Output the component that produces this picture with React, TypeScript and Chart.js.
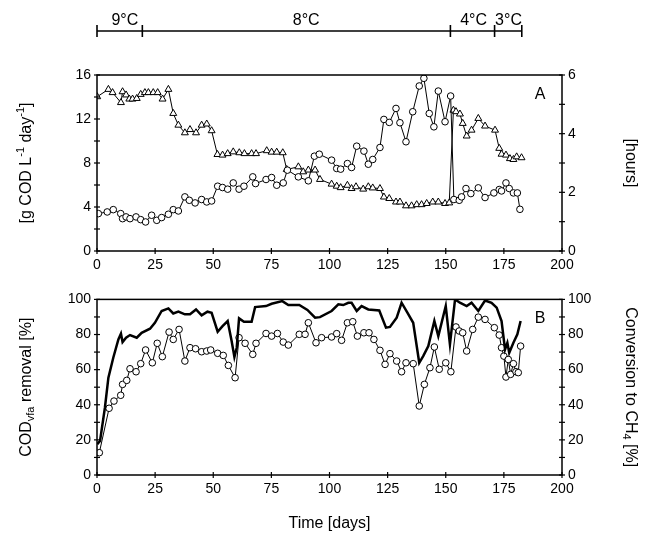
import React, { useEffect, useRef } from 'react';
import { Chart, registerables } from 'chart.js';

Chart.register(...registerables);

const FONT = 'Arial, "Liberation Sans", Helvetica, sans-serif';

// ---- Panel A: organic loading rate (circles, left axis) ----
const olrDays = [0.6, 4.4, 7, 10.2, 11, 12.5, 14.2, 16.8, 18.8, 20.9, 23.5, 25.7, 27.8, 30.7, 32.8, 35, 37.8, 39.7, 42.2, 45, 47.2, 49.3, 51.9, 54, 56.2, 58.6, 61.1, 63.2, 67, 68.2, 72.7, 75.1, 77.3, 80.1, 81.9, 86.6, 90.9, 93.5, 95.6, 100.9, 103.1, 104.8, 107.7, 109.5, 111.7, 114.8, 116.7, 118.6, 121.7, 123.4, 125.7, 128.6, 130.3, 132.9, 135.8, 138.6, 140.6, 142.9, 144.9, 146.8, 149.7, 152.1, 153.5, 155.8, 156.8, 158.7, 160.8, 164, 166.9, 170.7, 173, 174, 175.9, 177.3, 179.1, 180.8, 181.9];
const olrValues = [3.4, 3.55, 3.76, 3.4, 2.94, 3.1, 2.94, 3.1, 2.85, 2.64, 3.25, 2.79, 3.04, 3.34, 3.76, 3.64, 4.92, 4.61, 4.37, 4.68, 4.46, 4.55, 5.89, 5.77, 5.62, 6.19, 5.62, 5.89, 6.74, 6.13, 6.5, 6.68, 5.98, 6.19, 7.35, 6.74, 6.38, 8.62, 8.8, 8.26, 7.5, 7.44, 7.95, 7.59, 9.53, 9.08, 7.89, 8.32, 9.41, 11.96, 11.69, 12.96, 11.66, 9.93, 12.66, 15.0, 15.7, 12.5, 11.29, 14.54, 11.75, 14.09, 4.68, 4.61, 4.92, 5.68, 5.22, 5.74, 4.86, 5.28, 5.59, 5.46, 6.19, 5.68, 5.28, 5.28, 3.79];

// ---- Panel A: hydraulic retention time (triangles, right axis, hours) ----
const hrtDays = [0.1, 4.9, 6.7, 10.3, 11, 12.5, 13.9, 15.3, 17.1, 18.8, 20.6, 22.1, 24.2, 26.1, 28.2, 30.7, 32.8, 35, 37.8, 40, 42.6, 45, 47.2, 49.3, 51.8, 54, 56.2, 58.6, 61.2, 63.4, 66.5, 68.4, 73, 75.1, 77.3, 79.9, 81.6, 86.6, 88.7, 90.9, 93.8, 95.9, 100.9, 103.1, 104.8, 107.7, 109.5, 111.4, 114.5, 116.7, 118.6, 121.7, 123.4, 125.7, 128.6, 130.3, 132.9, 135.3, 137.5, 139.6, 141.8, 144.4, 146.8, 149.7, 151.5, 153.3, 154.4, 156.1, 157.3, 159, 161.1, 164, 166.9, 171.2, 173, 174, 175.9, 177.6, 179.1, 180.5, 182.6];
const hrtValues = [5.26, 5.51, 5.4, 5.06, 5.43, 5.32, 5.18, 5.18, 5.2, 5.34, 5.4, 5.4, 5.4, 5.4, 5.18, 5.51, 4.69, 4.29, 4.03, 4.14, 4.03, 4.29, 4.33, 4.1, 3.29, 3.27, 3.32, 3.38, 3.35, 3.32, 3.32, 3.32, 3.42, 3.37, 3.37, 3.35, 2.78, 2.87, 2.7, 2.76, 2.76, 2.44, 2.28, 2.21, 2.16, 2.24, 2.13, 2.19, 2.11, 2.19, 2.15, 2.13, 1.84, 1.79, 1.67, 1.67, 1.54, 1.54, 1.58, 1.58, 1.62, 1.67, 1.67, 1.62, 1.64, 4.8, 4.75, 4.67, 4.35, 3.92, 4.12, 4.52, 4.26, 4.12, 3.5, 3.3, 3.27, 3.15, 3.12, 3.21, 3.18];

// ---- Panel B: CODvfa removal (circles, left axis %) ----
const removalDays = [1, 5.2, 7.3, 10.2, 11, 12.8, 14.2, 16.8, 18.8, 20.9, 23.8, 25.9, 28.1, 31, 32.8, 35.3, 37.8, 40, 42.4, 45, 47.2, 48.9, 51.9, 54.3, 56.5, 59.4, 61.1, 63.7, 67, 68.4, 72.7, 75.1, 77.6, 80.1, 82.3, 87, 89.5, 90.9, 94.2, 96.6, 100.9, 103.1, 105.2, 107.7, 110, 112, 114.8, 117, 119.1, 121.7, 123.9, 126, 128.9, 131, 132.9, 136, 138.6, 140.8, 143.2, 145.1, 147.2, 150, 152.2, 154.4, 155.8, 157.3, 159, 161.6, 164, 166.9, 170.9, 173, 174, 175, 175.9, 176.9, 177.9, 179.1, 180.2, 181.2, 182.2];
const removalValues = [12.7, 38, 42.1, 45.4, 51.6, 53.9, 60.5, 58.8, 63.4, 71.2, 63.9, 75, 67.4, 81.4, 77.2, 82.9, 64.9, 72.5, 71.9, 70.2, 70.6, 71.2, 69.3, 68.1, 62.4, 55.4, 78.2, 75, 68.7, 75, 80.6, 79.1, 80.6, 75.7, 74, 80.1, 80.1, 86.7, 75.3, 78.2, 78.6, 80.5, 76.7, 86.7, 87.3, 79.1, 81, 81, 77.2, 71, 63, 69.1, 64.9, 58.8, 63.9, 63.4, 39.3, 51.6, 61.1, 72.9, 60.2, 63.9, 58.8, 84.3, 82, 81, 70.6, 82.9, 89.9, 88.6, 83.9, 79.7, 72.5, 67.7, 55.8, 65.8, 57.3, 63.4, 58.8, 58.3, 73.4];

// ---- Panel B: conversion to CH4 (thick line, right axis %) ----
const conversionDays = [0.1, 1.3, 3.4, 4.9, 7, 9.2, 10.3, 11, 12.5, 14.2, 17.1, 19.2, 22.8, 24.9, 27.8, 30.7, 32.8, 35, 37.8, 40, 42.6, 45, 47.5, 49.3, 51.9, 54, 56.2, 57.9, 59.1, 60.1, 61.1, 63.2, 66.5, 68, 72.7, 75.1, 79.7, 82.3, 87, 90.5, 93.8, 95.9, 100.9, 103.8, 105.9, 108.1, 109.5, 111.7, 113.8, 116.7, 121.4, 124.3, 126, 128.9, 131, 133.5, 136, 138.6, 140.3, 142.5, 145.1, 146.8, 150, 151.8, 154, 156.1, 159, 161.1, 164, 166.9, 169.7, 171.9, 174, 175.5, 176.5, 177.3, 179.1, 180.8, 182.2];
const conversionValues = [17.5, 19.4, 38.3, 55.4, 66.8, 77.2, 80.5, 75.7, 78.2, 79.7, 78.2, 81, 83.3, 86.7, 93.4, 94.9, 92, 93, 91.5, 91.5, 94.3, 90.9, 93, 92.4, 81.6, 84.8, 87.7, 76.3, 67.2, 72.5, 89.2, 87.3, 87.3, 95.6, 96.2, 97.5, 99, 96.8, 96.8, 94, 89.6, 89.9, 93.4, 97.2, 96.8, 98.1, 98.1, 93.4, 96.2, 94.3, 93.7, 83.9, 84.3, 89.6, 98.1, 92.4, 86.7, 63.9, 67.7, 73.4, 87.7, 79.1, 96.2, 74.4, 100, 98.1, 96.2, 98.1, 93.4, 99.4, 98.1, 95.3, 87.7, 71.5, 75.3, 69.6, 75.3, 80.1, 87.7];

// ---- Temperature periods (top bar) ----
const tempBounds = [0, 19.5, 152, 171, 182.7];
const tempLabels = ['9°C', '8°C', '4°C', '3°C'];
const tempLabelDays = [12, 90, 162, 177];

const toXY = (xs: number[], ys: number[]) => xs.map((x, i) => ({ x, y: ys[i] }));

type Seg = { t: string; sup?: boolean; sub?: boolean };

function drawRich(ctx: CanvasRenderingContext2D, segs: Seg[], x: number, y: number, rot: number, size: number) {
  ctx.save();
  ctx.translate(x, y);
  ctx.rotate(rot);
  ctx.fillStyle = '#000';
  ctx.textBaseline = 'alphabetic';
  ctx.textAlign = 'left';
  const fontFor = (s: Seg) => `${s.sup || s.sub ? Math.round(size * 0.7) : size}px ${FONT}`;
  let total = 0;
  const widths = segs.map((s) => {
    ctx.font = fontFor(s);
    const w = ctx.measureText(s.t).width;
    total += w;
    return w;
  });
  let cx = -total / 2;
  const base = size * 0.36;
  segs.forEach((s, i) => {
    ctx.font = fontFor(s);
    const dy = s.sup ? -size * 0.4 : s.sub ? size * 0.22 : 0;
    ctx.fillText(s.t, cx, base + dy);
    cx += widths[i];
  });
  ctx.restore();
}

const frameTicks = {
  id: 'frameTicks',
  afterDraw(chart: any) {
    const ctx = chart.ctx as CanvasRenderingContext2D;
    const a = chart.chartArea;
    ctx.save();
    ctx.strokeStyle = '#000';
    ctx.lineWidth = 1.5;
    ctx.strokeRect(a.left, a.top, a.right - a.left, a.bottom - a.top);
    ctx.lineWidth = 1.2;
    Object.keys(chart.scales).forEach((id) => {
      const s = chart.scales[id];
      s.ticks.forEach((t: any) => {
        const p = s.getPixelForValue(t.value);
        ctx.beginPath();
        if (s.axis === 'x') {
          ctx.moveTo(p, a.bottom - 3);
          ctx.lineTo(p, a.bottom + 3);
        } else if (s.position === 'left') {
          ctx.moveTo(a.left - 3, p);
          ctx.lineTo(a.left + 3, p);
        } else {
          ctx.moveTo(a.right - 3, p);
          ctx.lineTo(a.right + 3, p);
        }
        ctx.stroke();
      });
    });
    ctx.restore();
  },
};

const overlayA = {
  id: 'overlayA',
  afterDraw(chart: any) {
    const ctx = chart.ctx as CanvasRenderingContext2D;
    const a = chart.chartArea;
    const xs = chart.scales.x;
    ctx.save();
    // temperature bar
    const barY = 31;
    ctx.strokeStyle = '#000';
    ctx.lineWidth = 1.6;
    ctx.beginPath();
    ctx.moveTo(xs.getPixelForValue(tempBounds[0]), barY);
    ctx.lineTo(xs.getPixelForValue(tempBounds[tempBounds.length - 1]), barY);
    ctx.stroke();
    tempBounds.forEach((d) => {
      const px = xs.getPixelForValue(d);
      ctx.beginPath();
      ctx.moveTo(px, barY - 6);
      ctx.lineTo(px, barY + 6);
      ctx.stroke();
    });
    ctx.fillStyle = '#000';
    ctx.font = `16px ${FONT}`;
    ctx.textAlign = 'center';
    ctx.textBaseline = 'alphabetic';
    tempLabels.forEach((l, i) => {
      ctx.fillText(l, xs.getPixelForValue(tempLabelDays[i]), 25);
    });
    // panel letter
    ctx.textAlign = 'center';
    ctx.font = `16px ${FONT}`;
    ctx.fillText('A', a.right - 22, a.top + 24);
    ctx.restore();
    const midY = (a.top + a.bottom) / 2;
    drawRich(ctx, [{ t: '[g COD L' }, { t: '-1', sup: true }, { t: ' day' }, { t: '-1', sup: true }, { t: ']' }], 25, midY, -Math.PI / 2, 16);
    drawRich(ctx, [{ t: '[hours]' }], 632, midY, Math.PI / 2, 16);
  },
};

const overlayB = {
  id: 'overlayB',
  afterDraw(chart: any) {
    const ctx = chart.ctx as CanvasRenderingContext2D;
    const a = chart.chartArea;
    ctx.save();
    ctx.fillStyle = '#000';
    ctx.font = `16px ${FONT}`;
    ctx.textAlign = 'center';
    ctx.textBaseline = 'alphabetic';
    ctx.fillText('B', a.right - 22, a.top + 24);
    ctx.restore();
    const midY = (a.top + a.bottom) / 2;
    drawRich(ctx, [{ t: 'COD' }, { t: 'vfa', sub: true }, { t: ' removal [%]' }], 25, midY, -Math.PI / 2, 16);
    drawRich(ctx, [{ t: 'Conversion to CH' }, { t: '4', sub: true }, { t: ' [%]' }], 632, midY, Math.PI / 2, 16);
    drawRich(ctx, [{ t: 'Time [days]' }], (a.left + a.right) / 2, 237, 0, 16);
  },
};

const tickFont = { family: FONT, size: 14 };

function xScale(height: number) {
  return {
    type: 'linear' as const,
    min: 0,
    max: 200,
    grid: { display: false, drawTicks: false },
    border: { display: false },
    ticks: { stepSize: 25, padding: 6, color: '#000', font: tickFont, autoSkip: false, maxRotation: 0 },
    afterFit: (s: any) => { s.height = height; },
  };
}

function yScale(position: 'left' | 'right', max: number, step: number, labelEvery: number, width: number) {
  return {
    type: 'linear' as const,
    position,
    min: 0,
    max,
    grid: { display: false, drawTicks: false },
    border: { display: false },
    ticks: {
      stepSize: step,
      autoSkip: false,
      padding: 6,
      color: '#000',
      font: tickFont,
      callback: (v: any) => (Math.round(Number(v)) % labelEvery === 0 ? String(Math.round(Number(v))) : ''),
    },
    afterFit: (s: any) => { s.width = width; },
  };
}

const circleStyle = {
  borderColor: '#000',
  borderWidth: 1,
  pointStyle: 'circle',
  pointRadius: 3.3,
  pointBackgroundColor: '#fff',
  pointBorderColor: '#000',
  pointBorderWidth: 1,
  tension: 0,
  fill: false,
};

export default function App() {
  const refA = useRef<HTMLCanvasElement>(null);
  const refB = useRef<HTMLCanvasElement>(null);

  useEffect(() => {
    const chartA = new Chart(refA.current as HTMLCanvasElement, {
      type: 'line',
      data: {
        datasets: [
          { label: 'OLR', data: toXY(olrDays, olrValues), yAxisID: 'y', ...circleStyle } as any,
          {
            label: 'HRT',
            data: toXY(hrtDays, hrtValues),
            yAxisID: 'y2',
            ...circleStyle,
            pointStyle: 'triangle',
            pointRadius: 4,
          } as any,
        ],
      },
      options: {
        animation: false,
        responsive: false,
        devicePixelRatio: 1,
        layout: { padding: { top: 75, left: 0, right: 0, bottom: 0 } },
        plugins: { legend: { display: false }, tooltip: { enabled: false } },
        scales: {
          x: xScale(34),
          y: yScale('left', 16, 2, 4, 97),
          y2: yScale('right', 6, 1, 2, 89),
        } as any,
      },
      plugins: [frameTicks, overlayA],
    });

    const chartB = new Chart(refB.current as HTMLCanvasElement, {
      type: 'line',
      data: {
        datasets: [
          {
            label: 'Conversion',
            data: toXY(conversionDays, conversionValues),
            yAxisID: 'y2',
            borderColor: '#000',
            borderWidth: 2.5,
            pointRadius: 0,
            tension: 0,
            fill: false,
          } as any,
          { label: 'Removal', data: toXY(removalDays, removalValues), yAxisID: 'y', ...circleStyle } as any,
        ],
      },
      options: {
        animation: false,
        responsive: false,
        devicePixelRatio: 1,
        layout: { padding: { top: 12, left: 0, right: 0, bottom: 0 } },
        plugins: { legend: { display: false }, tooltip: { enabled: false } },
        scales: {
          x: xScale(70),
          y: yScale('left', 100, 10, 20, 97),
          y2: yScale('right', 100, 10, 20, 89),
        } as any,
      },
      plugins: [frameTicks, overlayB],
    });

    return () => {
      chartA.destroy();
      chartB.destroy();
    };
  }, []);

  return (
    <div style={{ position: 'fixed', left: 0, top: 0, width: 651, height: 545, background: '#fff' }}>
      <canvas ref={refA} width={651} height={285} style={{ position: 'absolute', left: 0, top: 0, width: 651, height: 285 }} />
      <canvas ref={refB} width={651} height={260} style={{ position: 'absolute', left: 0, top: 285, width: 651, height: 260 }} />
    </div>
  );
}
